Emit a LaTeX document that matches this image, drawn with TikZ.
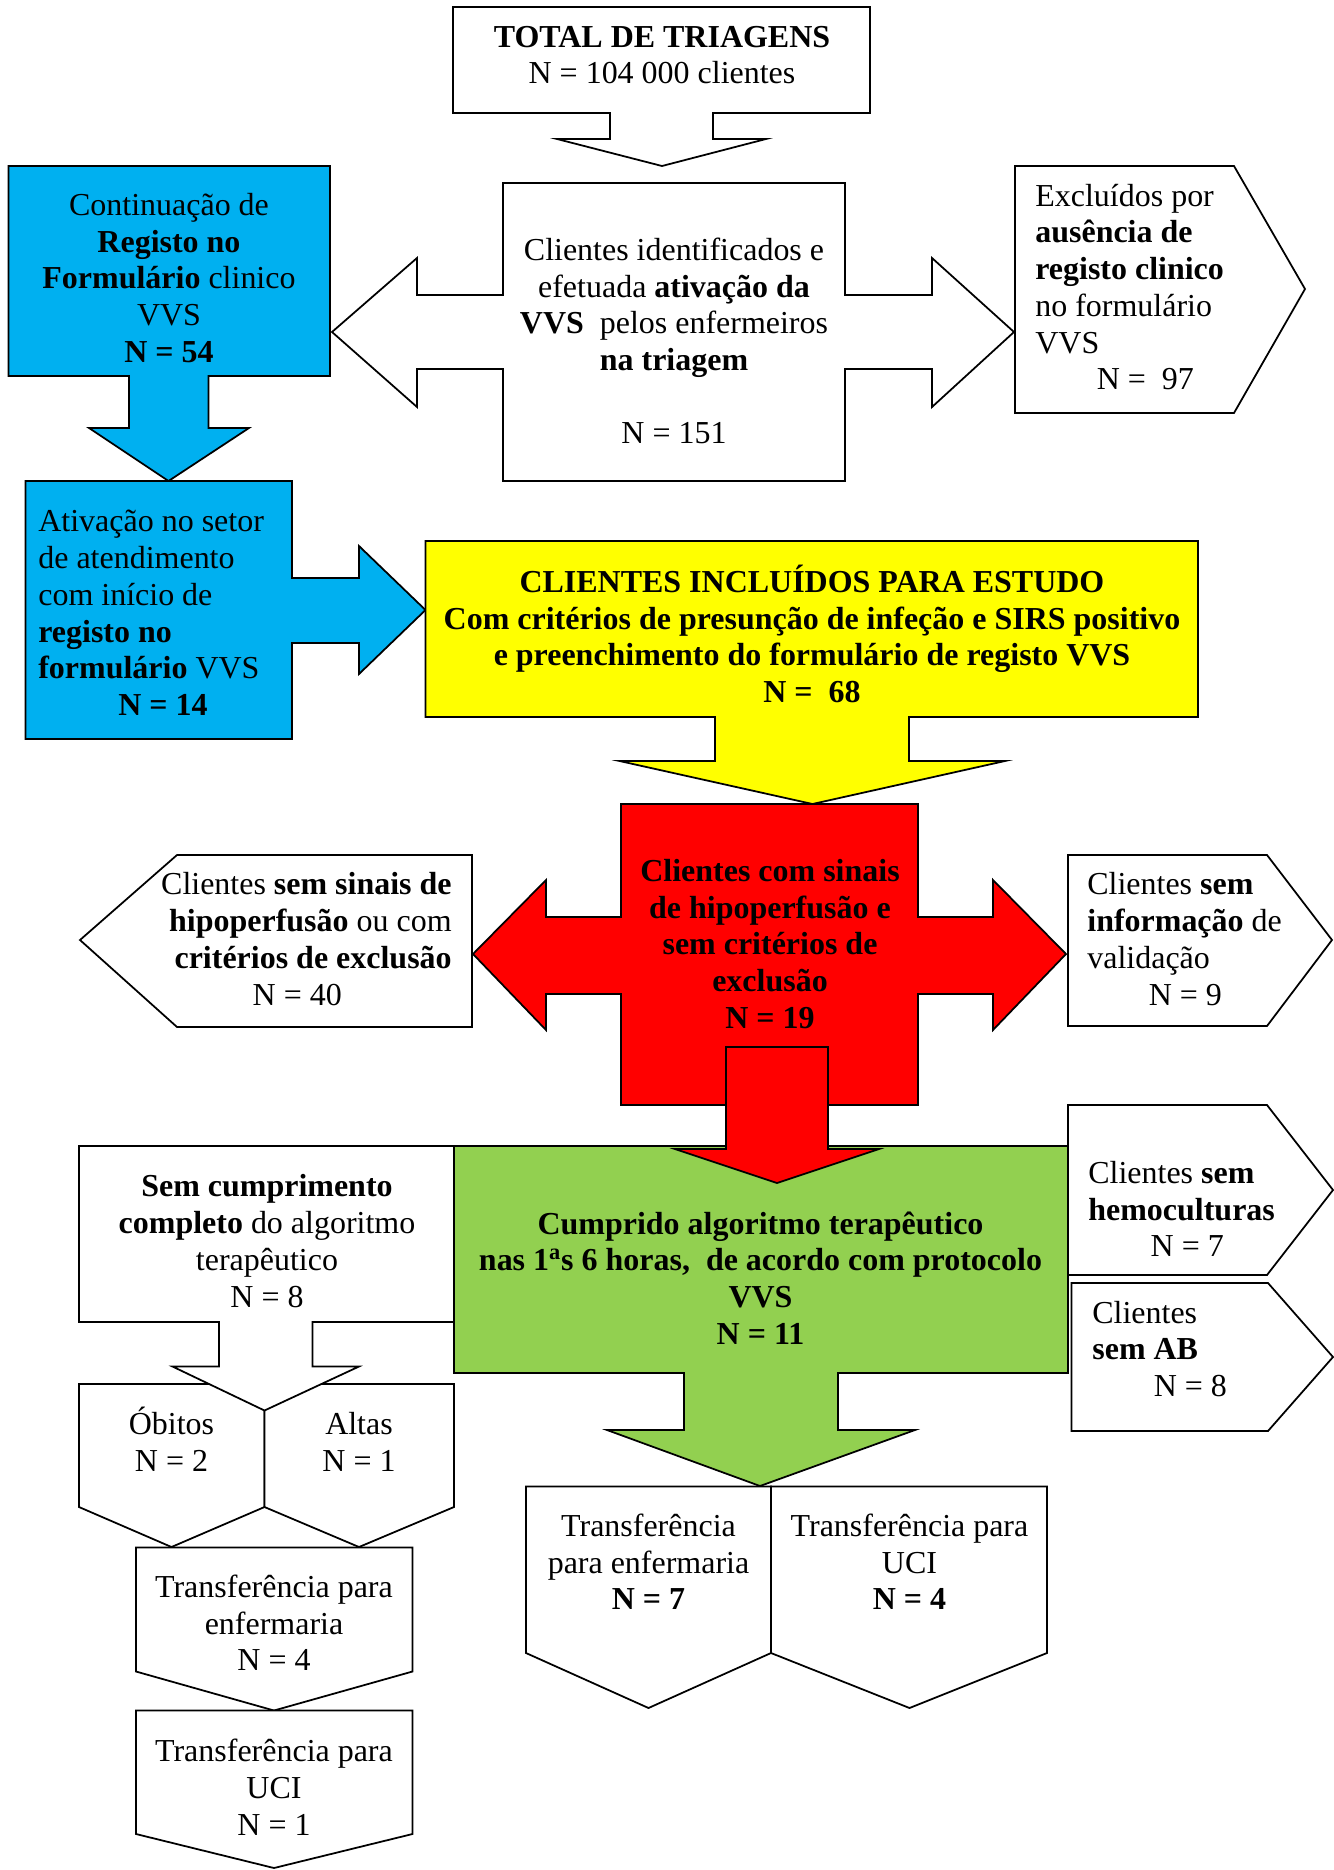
\documentclass[tikz,border=0pt]{standalone}
\usepackage{fontspec}
\setmainfont{Liberation Serif}
\usepackage{tikz}
\definecolor{vvsblue}{RGB}{0,176,240}
\definecolor{vvsyellow}{RGB}{255,255,0}
\definecolor{vvsred}{RGB}{255,0,0}
\definecolor{vvsgreen}{RGB}{146,208,80}
\newcommand{\vvsfont}{\fontsize{18.2}{20.9}\selectfont}
\tikzset{
  shapebox/.style={draw=black, line width=1pt, line join=miter, fill=#1},
  shapebox/.default=white,
  txt/.style={font=\vvsfont, align=center, inner sep=0pt},
  txtl/.style={font=\vvsfont, align=left, inner sep=0pt, anchor=west},
  txtr/.style={font=\vvsfont, align=right, inner sep=0pt, anchor=east},
}

\begin{document}
\begin{tikzpicture}[x=0.02cm, y=-0.02cm]
  \path[use as bounding box, fill=white] (0,0) rectangle (1334,1870);
  % Total de triagens
  \draw[shapebox] (453,7) -- (870,7) -- (870,113) -- (713,113) -- (713,139) -- (766,139)
    -- (662,166) -- (557,139) -- (610,139) -- (610,113) -- (453,113) -- cycle;
  \node[txt] (total) at (662,55) {\textbf{TOTAL DE TRIAGENS}\\N = 104 000 clientes};
  % Continuacao de registo
  \draw[shapebox=vvsblue] (8.5,166) -- (330,166) -- (330,376) -- (208.5,376) -- (208.5,428)
    -- (249,428) -- (168.5,481) -- (89,428) -- (129,428) -- (129,376) -- (8.5,376) -- cycle;
  \node[txt] (continuacao) at (169,278) {Continuação de\\\textbf{Registo no}\\\textbf{Formulário} clinico\\VVS\\\textbf{N = 54}};
  % Clientes identificados
  \draw[shapebox] (503,183) -- (845,183) -- (845,295) -- (932,295) -- (932,258) -- (1014,332)
    -- (932,407) -- (932,369) -- (845,369) -- (845,481) -- (503,481) -- (503,369) -- (417,369)
    -- (417,407) -- (332,332) -- (417,258) -- (417,295) -- (503,295) -- cycle;
  \node[txt] (identificados) at (674,341) {Clientes identificados e\\efetuada \textbf{ativação da}\\\textbf{VVS}~ pelos enfermeiros\\\textbf{na triagem}\\[20.9pt]N = 151};
  % Excluidos
  \draw[shapebox] (1015,166) -- (1234,166) -- (1305,289) -- (1234,413) -- (1015,413) -- cycle;
  \node[txtl] (excluidos) at (1035,287) {Excluídos por\\\textbf{ausência de}\\\textbf{registo clinico}\\no formulário\\VVS\\\hspace*{35pt}N =~ 97};
  % Ativacao no setor
  \draw[shapebox=vvsblue] (25.5,481) -- (292,481) -- (292,578) -- (359,578) -- (359,546)
    -- (425.5,610) -- (359,674) -- (359,643) -- (292,643) -- (292,739) -- (25.5,739) -- cycle;
  \node[txtl] (ativacao) at (38,613) {Ativação no setor\\de atendimento\\com início de\\\textbf{registo no}\\\textbf{formulário} VVS\\\hspace*{45.5pt}\textbf{N = 14}};
  % Clientes incluidos
  \draw[shapebox=vvsyellow] (425.5,541) -- (1198,541) -- (1198,717) -- (909,717) -- (909,761)
    -- (1005,761) -- (812.5,804) -- (619.5,761) -- (715,761) -- (715,717) -- (425.5,717) -- cycle;
  \node[txt, font=\vvsfont\bfseries] (incluidos) at (812,634) {CLIENTES INCLUÍDOS PARA ESTUDO\\Com critérios de presunção de infeção e SIRS positivo\\e preenchimento do formulário de registo VVS\\N =~ 68};
  % Sem sinais / sem informacao
  \draw[shapebox] (80,940) -- (177,855) -- (472,855) -- (472,1027) -- (177,1027) -- cycle;
  \node[txtr] (semsinais) at (452,939) {Clientes \textbf{sem sinais de}\\\textbf{hipoperfusão} ou com\\\textbf{critérios de exclusão}\\N = 40\hspace*{62.5pt}};
  \draw[shapebox] (1068,855) -- (1267,855) -- (1332,940) -- (1267,1026) -- (1068,1026) -- cycle;
  \node[txtl] (seminfo) at (1087,939) {Clientes \textbf{sem}\\\textbf{informação} de\\validação\\\hspace*{35pt}N = 9};
  % Hipoperfusao
  \draw[shapebox=vvsred] (621,804) -- (918,804) -- (918,917) -- (993,917) -- (993,880)
    -- (1066,954) -- (993,1030) -- (993,994) -- (918,994) -- (918,1105) -- (621,1105)
    -- (621,994) -- (546,994) -- (546,1030) -- (473,954) -- (546,880) -- (546,917) -- (621,917) -- cycle;
  \node[txt, font=\vvsfont\bfseries] (hipoperfusao) at (770,944) {Clientes com sinais\\de hipoperfusão e\\sem critérios de\\exclusão\\N = 19};
  % Cumprido algoritmo
  \draw[shapebox=vvsgreen] (454,1146) -- (1068,1146) -- (1068,1373) -- (838,1373) -- (838,1430)
    -- (915,1430) -- (760,1486) -- (607,1430) -- (684,1430) -- (684,1373) -- (454,1373) -- cycle;
  \node[txt, font=\vvsfont\bfseries] (cumprido) at (760.5,1278) {Cumprido algoritmo terapêutico\\nas 1\textsuperscript{a}s 6 horas,~ de acordo com protocolo\\VVS\\N = 11};
  \draw[shapebox=vvsred] (726,1047) -- (828,1047) -- (828,1149) -- (879,1149) -- (777,1183)
    -- (675,1149) -- (726,1149) -- cycle;
  % Hemoculturas / AB
  \draw[shapebox] (1068,1105) -- (1267,1105) -- (1333,1190) -- (1267,1275) -- (1068,1275) -- cycle;
  \node[txtl] (hemo) at (1088,1209) {Clientes \textbf{sem}\\\textbf{hemoculturas}\\\hspace*{35.5pt}N = 7};
  \draw[shapebox] (1071.5,1283) -- (1268,1283) -- (1333,1357) -- (1268,1431) -- (1071.5,1431) -- cycle;
  \node[txtl] (semab) at (1092,1349) {Clientes\\\textbf{sem AB}\\\hspace*{35pt}N = 8};
  % Obitos / Altas
  \draw[shapebox] (79,1384) -- (264.5,1384) -- (264.5,1507) -- (171.5,1547) -- (79,1507) -- cycle;
  \draw[shapebox] (264.5,1384) -- (454,1384) -- (454,1507) -- (359,1547) -- (264.5,1507) -- cycle;
  \node[txt] (obitos) at (171.5,1439) {Óbitos\\N = 2};
  \node[txt] (altas) at (359,1442) {Altas\\N = 1};
  % Sem cumprimento
  \draw[shapebox] (79,1146) -- (454,1146) -- (454,1322) -- (312.5,1322) -- (312.5,1366.5)
    -- (359,1366.5) -- (264.5,1410.5) -- (172.5,1366.5) -- (219,1366.5) -- (219,1322) -- (79,1322) -- cycle;
  \node[txt] (semcumprimento) at (267,1241) {\textbf{Sem cumprimento}\\\textbf{completo} do algoritmo\\terapêutico\\N = 8};
  % Transferencias (esquerda)
  \draw[shapebox] (136,1547.5) -- (412.5,1547.5) -- (412.5,1671.5) -- (274,1710.5) -- (136,1671.5) -- cycle;
  \node[txt] (enfesq) at (274,1623) {Transferência para\\enfermaria\\N = 4};
  \draw[shapebox] (136,1710.5) -- (412.5,1710.5) -- (412.5,1834) -- (274,1868) -- (136,1834) -- cycle;
  \node[txt] (uciesq) at (274,1787) {Transferência para\\UCI\\N = 1};
  % Transferencias (centro)
  \draw[shapebox] (526,1486.5) -- (771,1486.5) -- (771,1653) -- (648.5,1708) -- (526,1653) -- cycle;
  \node[txt] (enfcentro) at (648.5,1562) {Transferência\\para enfermaria\\\textbf{N = 7}};
  \draw[shapebox] (771,1486.5) -- (1047,1486.5) -- (1047,1653) -- (909.5,1708) -- (771,1653) -- cycle;
  \node[txt] (ucicentro) at (909.5,1562) {Transferência para\\UCI\\\textbf{N = 4}};
\end{tikzpicture}
\end{document}
